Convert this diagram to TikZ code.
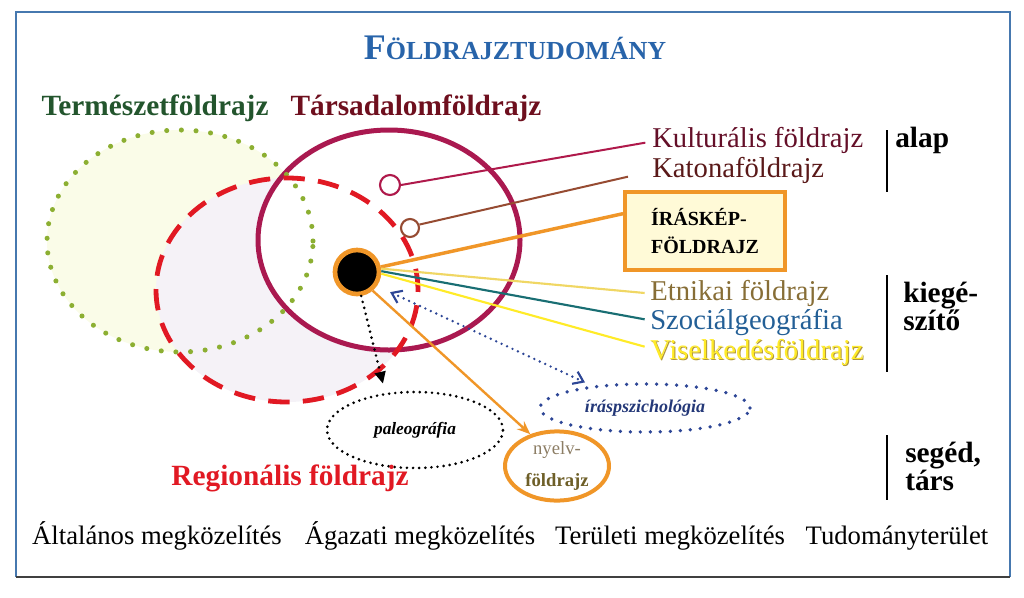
\documentclass[tikz,border=0pt]{standalone}
\usepackage{fontspec}
\setmainfont{Liberation Serif}
\usetikzlibrary{shapes.geometric,arrows.meta}
\definecolor{framecol}{RGB}{70,120,175}
\definecolor{titleblue}{RGB}{40,100,170}
\definecolor{natgreen}{RGB}{35,85,45}
\definecolor{tarsred}{RGB}{110,15,30}
\definecolor{maroon}{RGB}{170,25,80}
\definecolor{dotgreen}{RGB}{140,175,50}
\definecolor{natfill}{RGB}{250,252,232}
\definecolor{regfill}{RGB}{245,242,247}
\definecolor{regred}{RGB}{225,25,35}
\definecolor{kultline}{RGB}{175,25,75}
\definecolor{kulttext}{RGB}{100,15,40}
\definecolor{brownc}{RGB}{150,75,50}
\definecolor{katotext}{RGB}{90,25,25}
\definecolor{orangec}{RGB}{240,150,40}
\definecolor{boxfill}{RGB}{255,250,215}
\definecolor{etnline}{RGB}{240,215,100}
\definecolor{etntext}{RGB}{135,110,55}
\definecolor{tealc}{RGB}{25,110,115}
\definecolor{szoctext}{RGB}{35,95,150}
\definecolor{yellowc}{RGB}{255,235,40}
\definecolor{yshadow}{RGB}{175,150,60}
\definecolor{bluedots}{RGB}{45,70,150}
\definecolor{nyelvgray}{RGB}{140,125,100}
\definecolor{nyelvolive}{RGB}{110,95,40}
\begin{document}
\begin{tikzpicture}[x=0.75pt,y=-0.75pt,
  hdr/.style={font=\fontsize{22}{26}\selectfont\bfseries, inner sep=0},
  lab/.style={font=\fontsize{21.5}{25}\selectfont, anchor=west, inner sep=0},
  side/.style={font=\fontsize{22}{21}\selectfont\bfseries, anchor=west, align=left, inner sep=0},
  bottom/.style={font=\fontsize{20}{24}\selectfont, inner sep=0, anchor=base},
  bar/.style={line width=1.5pt, black},
  greendots/.style={draw=dotgreen, line width=3.8pt, line cap=round, dash pattern=on 0pt off 11pt},
  reddash/.style={draw=regred, line width=3.6pt, dash pattern=on 16pt off 10pt},
  bluedot/.style={draw=bluedots, line width=2.8pt, line cap=round, dash pattern=on 0pt off 7.5pt},
  blackdot/.style={draw=black, line width=2.2pt, line cap=round, dash pattern=on 0pt off 4.6pt}
]
\useasboundingbox (0,0) rectangle (1024,597);
% frame
\draw[framecol, line width=1.5pt] (16,577) -- (16,12) -- (1010,12) -- (1010,577);
\draw[black!75, line width=2pt] (16,577) -- (1010,577);

% title
\node[inner sep=0, text=titleblue, font=\bfseries] (title) at (515,48)
  {{\fontsize{27}{30}\selectfont F}{\fontsize{19.5}{22}\selectfont ÖLDRAJZTUDOMÁNY}};

% headings
\node[hdr, text=natgreen] (termh) at (155,108) {Természetföldrajz};
\node[hdr, text=tarsred] (tarsh) at (416,108) {Társadalomföldrajz};

% big ellipses
\node[ellipse, minimum width=199.5pt, minimum height=166.5pt, inner sep=0, fill=natfill] (nat) at (180,241) {};
\node[ellipse, minimum width=196.5pt, minimum height=168pt, inner sep=0, fill=regfill] (reg) at (287,290) {};
\node[ellipse, minimum width=196.5pt, minimum height=165pt, inner sep=0, fill=white, draw=maroon, line width=3.75pt] (tars) at (389,240) {};
\draw[greendots] (nat.center) ellipse [x radius=99.75pt, y radius=83.25pt];
\draw[reddash] (reg.center) ellipse [x radius=98.25pt, y radius=84pt];

% small circles and core
\node[circle, draw=kultline, line width=1.6pt, minimum size=15pt, inner sep=0, fill=white] (c1) at (390,185) {};
\node[circle, draw=brownc, line width=1.6pt, minimum size=13.5pt, inner sep=0, fill=white] (c2) at (410,228) {};
\node[circle, fill=black, draw=orangec, line width=3.5pt, minimum size=33pt, inner sep=0] (core) at (357,272) {};

% box
\node[rectangle, draw=orangec, fill=boxfill, line width=3pt, minimum width=120pt, minimum height=58pt,
  font=\fontsize{15}{21}\selectfont\bfseries, align=left] (box) at (705,231) {ÍRÁSKÉP-\\FÖLDRAJZ};

% right labels
\node[lab, text=kulttext] (kult) at (652,140) {Kulturális földrajz};
\node[lab, text=katotext] (kato) at (652,170) {Katonaföldrajz};
\node[lab, text=etntext] (etn) at (650,293) {Etnikai földrajz};
\node[lab, text=szoctext] (szoc) at (650,322) {Szociálgeográfia};
\node[lab, text=yshadow] (viselsh) at (651,353) {Viselkedésföldrajz};
\node[lab, text=yellowc] (visel) at (650,352) {Viselkedésföldrajz};

% connectors
\draw[kultline, line width=1.5pt] (c1.east) -- ([xshift=-5pt,yshift=-2pt]kult.west);
\draw[brownc, line width=1.5pt] (c2.20) -- ([xshift=-18pt,yshift=-5pt]kato.west);
\draw[orangec, line width=2.6pt] (core.12) -- ([yshift=13pt]box.west);
\draw[etnline, line width=1.6pt] (core.8) -- ([xshift=-4pt]etn.west);
\draw[tealc, line width=1.6pt] (core.2) -- ([xshift=-4pt,yshift=2pt]szoc.west);
\draw[yellowc, line width=1.6pt] (core.-4) -- ([xshift=-4pt,yshift=4pt]visel.west);

% bottom ellipses
\node[ellipse, minimum width=132pt, minimum height=57pt, inner sep=0,
  font=\fontsize{13}{15}\selectfont\bfseries\itshape] (paleo) at (415,430) {paleográfia};
\draw[blackdot] (paleo.center) ellipse [x radius=66pt, y radius=28.5pt];
\node[ellipse, minimum width=157.5pt, minimum height=36pt, inner sep=0, text=bluedots!80!black,
  font=\fontsize{13.5}{15}\selectfont\bfseries\itshape] (irasp) at (645,408) {íráspszichológia};
\draw[bluedot] (irasp.center) ellipse [x radius=78.75pt, y radius=18pt];
\node[ellipse, draw=orangec, line width=3pt, minimum width=78pt, minimum height=49.5pt, inner sep=0,
  align=center, font=\fontsize{14}{24}\selectfont] (nyelv) at (557,466)
  {\textcolor{nyelvgray}{nyelv-}\\\textcolor{nyelvolive}{\bfseries földrajz}};

% arrows
\draw[blackdot, -{Triangle[length=9pt,width=8pt]}] (core.-80) -- ([xshift=-24pt,yshift=6pt]paleo.north);
\draw[bluedot, line width=2pt, dash pattern=on 0pt off 4.5pt,
  {Straight Barb[length=7pt,width=10pt,line width=1.6pt]}-{Straight Barb[length=7pt,width=10pt,line width=1.6pt]}]
  ([xshift=9pt,yshift=-6pt]core.-30) -- ([xshift=-45pt,yshift=1pt]irasp.north);
\draw[orangec, line width=1.8pt, -{Stealth[length=10pt,width=8pt]}] (core.-50) -- (nyelv.130);

% side bars and labels
\draw[bar] (887,130) coordinate (b1t) -- (887,192) coordinate (b1b);
\node[side] (alap) at (895,140) {alap};
\draw[bar] (887,275) coordinate (b2t) -- (887,372) coordinate (b2b);
\node[side, anchor=north west] (kieg) at (903,282) {kiegé-\\szítő};
\draw[bar] (887,435) coordinate (b3t) -- (887,500) coordinate (b3b);
\node[side, anchor=north west] (seged) at (905,442) {segéd,\\társ};

% regional heading
\node[hdr, text=regred] (regh) at (290,478) {Regionális földrajz};

% bottom
\node[bottom] (b1) at (157,544) {Általános megközelítés};
\node[bottom] (b2) at (420,544) {Ágazati megközelítés};
\node[bottom] (b3) at (670,544) {Területi megközelítés};
\node[bottom] (b4) at (897,544) {Tudományterület};
\end{tikzpicture}
\end{document}
